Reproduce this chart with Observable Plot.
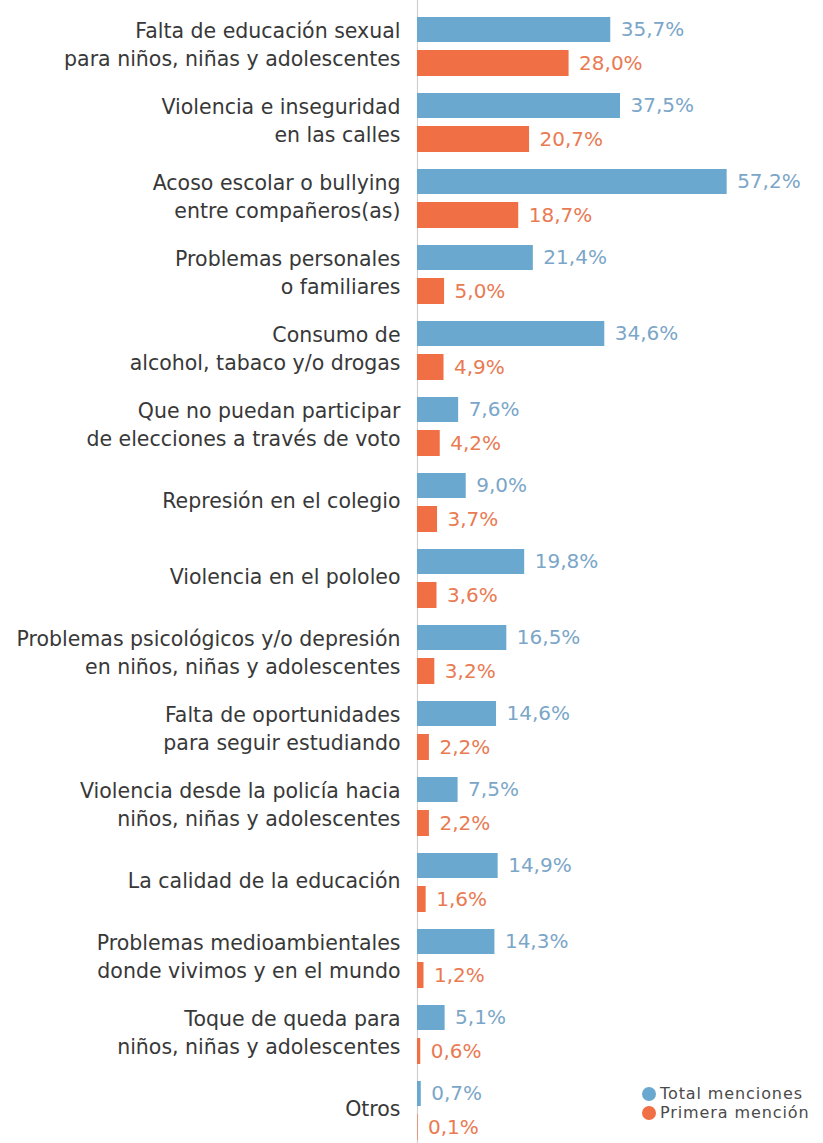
<!DOCTYPE html>
<html>
<head>
<meta charset="utf-8">
<script src="https://cdn.jsdelivr.net/npm/d3@7"></script>
<script src="https://cdn.jsdelivr.net/npm/@observablehq/plot@0.6"></script>
<style>
  html, body { margin: 0; padding: 0; background: #fff; }
  #wrap { position: relative; width: 823px; height: 1143px; overflow: hidden; font-family: "DejaVu Sans", sans-serif; }
  #legend { position: absolute; left: 642px; top: 1084px; font-size: 16px; letter-spacing: 0.9px; color: #4a4a4a; }
  #legend .row { display: flex; align-items: center; height: 19px; white-space: nowrap; }
  #legend .dot { width: 14px; height: 14px; border-radius: 50%; margin-right: 4px; flex: none; }
</style>
</head>
<body>
<div id="wrap"><div id="chart"></div><div id="legend"></div></div>
<script>
const categories = [
  "Falta de educación sexual\npara niños, niñas y adolescentes",
  "Violencia e inseguridad\nen las calles",
  "Acoso escolar o bullying\nentre compañeros(as)",
  "Problemas personales\no familiares",
  "Consumo de\nalcohol, tabaco y/o drogas",
  "Que no puedan participar\nde elecciones a través de voto",
  "Represión en el colegio",
  "Violencia en el pololeo",
  "Problemas psicológicos y/o depresión\nen niños, niñas y adolescentes",
  "Falta de oportunidades\npara seguir estudiando",
  "Violencia desde la policía hacia\nniños, niñas y adolescentes",
  "La calidad de la educación",
  "Problemas medioambientales\ndonde vivimos y en el mundo",
  "Toque de queda para\nniños, niñas y adolescentes",
  "Otros"
];
const totalMenciones = [35.7, 37.5, 57.2, 21.4, 34.6, 7.6, 9.0, 19.8, 16.5, 14.6, 7.5, 14.9, 14.3, 5.1, 0.7];
const primeraMencion = [28.0, 20.7, 18.7, 5.0, 4.9, 4.2, 3.7, 3.6, 3.2, 2.2, 2.2, 1.6, 1.2, 0.6, 0.1];
const seriesNames = ["Total menciones", "Primera mención"];
const seriesColors = ["#6aa8cf", "#f06f45"];
const labelColors = ["#7ba6c8", "#e97a52"];

const rows = categories.map((c, i) => ({category: c, total: totalMenciones[i], primera: primeraMencion[i]}));
const fmt = v => v.toFixed(1).replace(".", ",") + "%";

const chart = Plot.plot({
  width: 823,
  height: 1143,
  marginLeft: 417,
  marginRight: 0,
  marginTop: 0,
  marginBottom: 0,
  style: {fontFamily: "DejaVu Sans, sans-serif", fontSize: "20px", overflow: "hidden", background: "#fff"},
  x: {domain: [0, 75], axis: null},
  y: {domain: categories, range: [0, 1158], paddingInner: 0.2177, paddingOuter: 0.1565, align: 0.5, axis: null},
  marks: [
    Plot.ruleX([0], {stroke: "#cfcfcf", strokeWidth: 1.2}),
    Plot.barX(rows, {y: "category", x: "total", fill: seriesColors[0], insetBottom: 34}),
    Plot.barX(rows, {y: "category", x: "primera", fill: seriesColors[1], insetTop: 33}),
    Plot.text(rows, {y: "category", x: "total", text: d => fmt(d.total), dx: 10, dy: -17, textAnchor: "start", fill: labelColors[0]}),
    Plot.text(rows, {y: "category", x: "primera", text: d => fmt(d.primera), dx: 10, dy: 16.5, textAnchor: "start", fill: labelColors[1]}),
    Plot.text(rows, {y: "category", text: "category", frameAnchor: "left", textAnchor: "end", dx: -17, dy: -4, lineHeight: 1.37, fontSize: 20.5, fill: "#383838"})
  ]
});
document.getElementById("chart").appendChild(chart);

const legend = document.getElementById("legend");
seriesNames.forEach((name, i) => {
  const row = document.createElement("div");
  row.className = "row";
  const dot = document.createElement("span");
  dot.className = "dot";
  dot.style.background = seriesColors[i];
  const label = document.createElement("span");
  label.textContent = name;
  row.appendChild(dot);
  row.appendChild(label);
  legend.appendChild(row);
});
</script>
</body>
</html>
